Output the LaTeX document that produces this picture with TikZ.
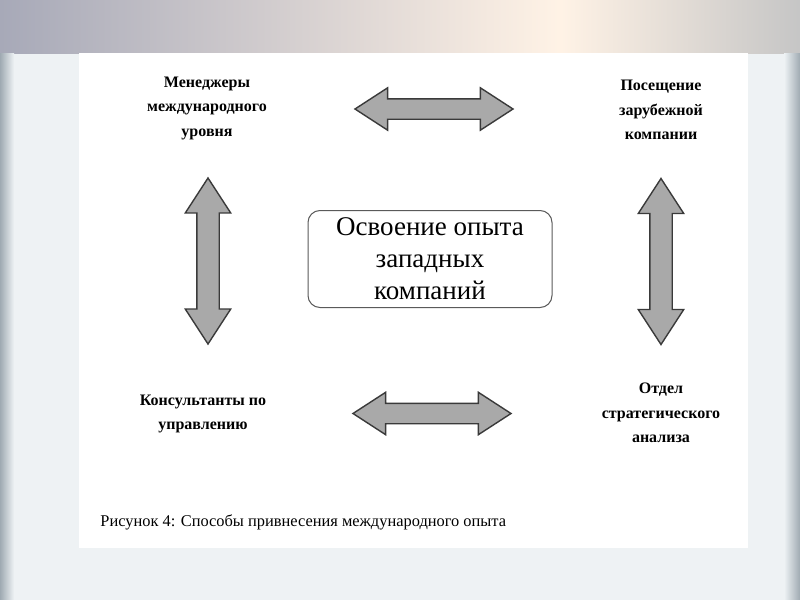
\documentclass[tikz,border=0pt]{standalone}
\usepackage{fontspec}
\setmainfont{Liberation Serif}
\usetikzlibrary{shapes.arrows,calc}

\definecolor{arrowgray}{HTML}{A9A9A9}
\definecolor{edgegray}{HTML}{3A3A3A}
\definecolor{boxgray}{HTML}{5A5A5A}
\definecolor{backlight}{HTML}{EEF2F4}
\definecolor{bandgray}{HTML}{A7A9B8}
\definecolor{stripgray}{HTML}{9FAAB2}

\begin{document}
\begin{tikzpicture}[x=0.5pt,y=-0.5pt,
    cornertext/.style={align=center, inner sep=0pt, font=\bfseries\fontsize{8}{12.25}\selectfont},
    bigarrow/.style={double arrow, draw=edgegray, fill=arrowgray, line width=0.7pt,
      inner xsep=0pt, double arrow tip angle=66}]
    \useasboundingbox (0,0) rectangle (800,600);

    % Slide background
    \fill[backlight] (0,0) rectangle (800,600);
    \shade[left color=bandgray, right color=white!90!orange] (0,0) rectangle (560,53);
    \shade[left color=white!90!orange, right color=gray!45] (560,0) rectangle (800,53);
    \shade[left color=stripgray, right color=backlight] (0,53) rectangle (14,600);
    \shade[left color=backlight, right color=stripgray] (784,53) rectangle (800,600);
    \fill[white] (79,53) rectangle (748,548);

    % Four sources of experience
    \node[cornertext] (managers) at (207,108) {Менеджеры\\международного\\уровня};
    \node[cornertext] (visit) at (661,110) {Посещение\\зарубежной\\компании};
    \node[cornertext] (consult) at (203,414) {Консультанты по\\управлению};
    \node[cornertext] (dept) at (661,413) {Отдел\\стратегического\\анализа};

    % Central box
    \node[draw=boxgray, line width=0.5pt, rounded corners=6pt, minimum width=122pt, minimum height=48.5pt,
      align=center, font=\fontsize{13.5}{16}\selectfont] (center) at (430,259) {Освоение опыта\\западных\\компаний};

    % Block arrows between the sources
    \node[bigarrow, inner ysep=4.75pt, double arrow head extend=5.5pt, minimum height=79pt]
      (toparrow) at ($(managers)!0.5!(visit)$) {};
    \node[bigarrow, inner ysep=4.75pt, double arrow head extend=5.5pt, minimum height=79pt]
      (bottomarrow) at ($(consult)!0.5!(dept)$) {};
    \node[bigarrow, inner ysep=5.25pt, double arrow head extend=5.75pt, minimum height=83pt, rotate=90]
      (leftarrow) at ($(managers)!0.5!(consult)+(3,0)$) {};
    \node[bigarrow, inner ysep=5.25pt, double arrow head extend=5.75pt, minimum height=83pt, rotate=90]
      (rightarrow) at ($(visit)!0.5!(dept)$) {};

    % Caption
    \node[anchor=west, inner sep=0pt, font=\fontsize{8.2}{9}\selectfont] (caption) at (100,522)
      {Рисунок 4: Способы привнесения международного опыта};
\end{tikzpicture}
\end{document}
